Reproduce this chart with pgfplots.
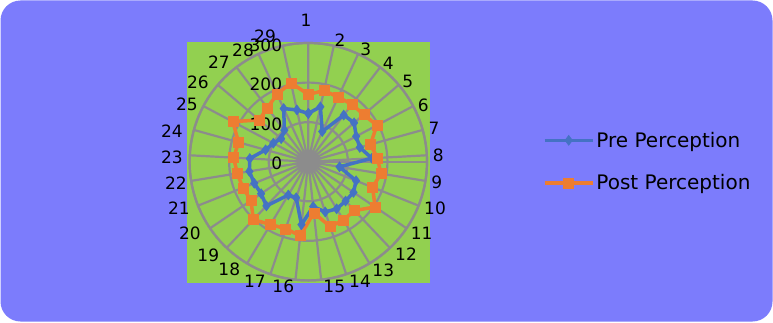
\documentclass[border=0pt]{standalone}
\usepackage{pgfplots}
\pgfplotsset{compat=1.18}
\usepackage{pgfplotstable}
\usepgfplotslibrary{polar}
\usepackage{fontspec}
\setmainfont{DejaVu Sans}
\definecolor{bgblue}{RGB}{124,124,252}
\definecolor{plotgreen}{RGB}{146,208,80}
\definecolor{preblue}{RGB}{68,114,196}
\definecolor{postorange}{RGB}{237,125,49}
\definecolor{gridgray}{RGB}{140,140,140}

% k = category number, pre / post = values
\pgfplotstableread{
k pre post
1 122 170
2 142 184
3 84 180
4 148 182
5 152 184
6 137 196
7 135 163
8 161 175
9 80 186
10 130 175
11 138 204
12 137 170
13 139 172
14 134 173
15 114 130
16 160 188
17 96 179
18 98 185
19 154 202
20 144 175
21 147 178
22 151 182
23 148 189
24 112 183
25 100 216
26 90 163
27 100 171
28 148 188
29 134 204
30 122 170
}\data

\begin{document}
\begin{tikzpicture}[x=1pt,y=1pt]
\useasboundingbox (0,0) rectangle (773,322);
\fill[bgblue, rounded corners=20pt] (0.5,0.5) rectangle (772.5,321.5);
\fill[plotgreen] (186.7,39) rectangle (429.5,280.3);
\begin{polaraxis}[
  at={(308.3pt,160.3pt)}, anchor=center,
  scale only axis, width=237.4pt, height=237.4pt,
  clip=false,
  xmin=0, xmax=360, ymin=0, ymax=300,
  xtick={90,77.586,65.172,52.759,40.345,27.931,15.517,3.103,350.690,338.276,325.862,313.448,301.034,288.621,276.207,263.793,251.379,238.966,226.552,214.138,201.724,189.310,176.897,164.483,152.069,139.655,127.241,114.828,102.414},
  xticklabels={},
  ytick={0,100,200,300},
  yticklabels={},
  major tick length=0pt,
  grid=major,
  major grid style={gridgray, line width=2.2pt},
  axis line style={gridgray, line width=2.2pt},
  legend style={at={(1.475,0.5)}, anchor=west, draw=none, fill=none,
    font=\fontsize{20}{22}\selectfont, row sep=22pt},
  legend cell align=left,
  legend image code/.code={\draw[mark repeat=2,mark phase=2,#1] plot coordinates {(0pt,0pt) (24pt,0pt) (48pt,0pt)};},
]
\addplot[preblue, line width=3.5pt, mark=diamond*, mark size=5pt, mark options={fill=preblue, line width=0.5pt}]
  table[x expr={90-(\thisrow{k}-1)*360/29}, y=pre] {\data};
\addlegendentry{Pre Perception}
\addplot[postorange, line width=3.5pt, mark=square*, mark size=5pt, mark options={fill=postorange, line width=0.5pt}]
  table[x expr={90-(\thisrow{k}-1)*360/29}, y=post] {\data};
\addlegendentry{Post Perception}
\node[anchor=east, xshift=-26pt, yshift=-2pt, font=\fontsize{17}{19}\selectfont, inner sep=0pt] at (axis cs:90,0) {0};
\node[anchor=east, xshift=-26pt, yshift=-2pt, font=\fontsize{17}{19}\selectfont, inner sep=0pt] at (axis cs:90,100) {100};
\node[anchor=east, xshift=-26pt, yshift=-2pt, font=\fontsize{17}{19}\selectfont, inner sep=0pt] at (axis cs:90,200) {200};
\node[anchor=east, xshift=-26pt, yshift=-2pt, font=\fontsize{17}{19}\selectfont, inner sep=0pt] at (axis cs:90,300) {300};
\end{polaraxis}
% category labels around the radar
\begin{scope}[every node/.style={font=\fontsize{17}{19}\selectfont, inner sep=0pt, anchor=center}]
\node at (306,301.3) {1};
\node at (340,282) {2};
\node at (365.7,272.7) {3};
\node at (388.3,258.7) {4};
\node at (407.7,240.3) {5};
\node at (423.3,217) {6};
\node at (434,193.7) {7};
\node at (438.3,167) {8};
\node at (436.7,139.3) {9};
\node at (435,113.7) {10};
\node at (421.7,88.7) {11};
\node at (406,68) {12};
\node at (383.3,52) {13};
\node at (360,41) {14};
\node at (334.3,35.3) {15};
\node at (283.3,35.3) {16};
\node at (255,40.3) {17};
\node at (229.3,52.7) {18};
\node at (208.3,67) {19};
\node at (190,88.7) {20};
\node at (179,114) {21};
\node at (176,139) {22};
\node at (172,165) {23};
\node at (172,191) {24};
\node at (187,218) {25};
\node at (198,240) {26};
\node at (219,260) {27};
\node at (243,272) {28};
\node at (265,286) {29};
\end{scope}
\end{tikzpicture}
\end{document}
